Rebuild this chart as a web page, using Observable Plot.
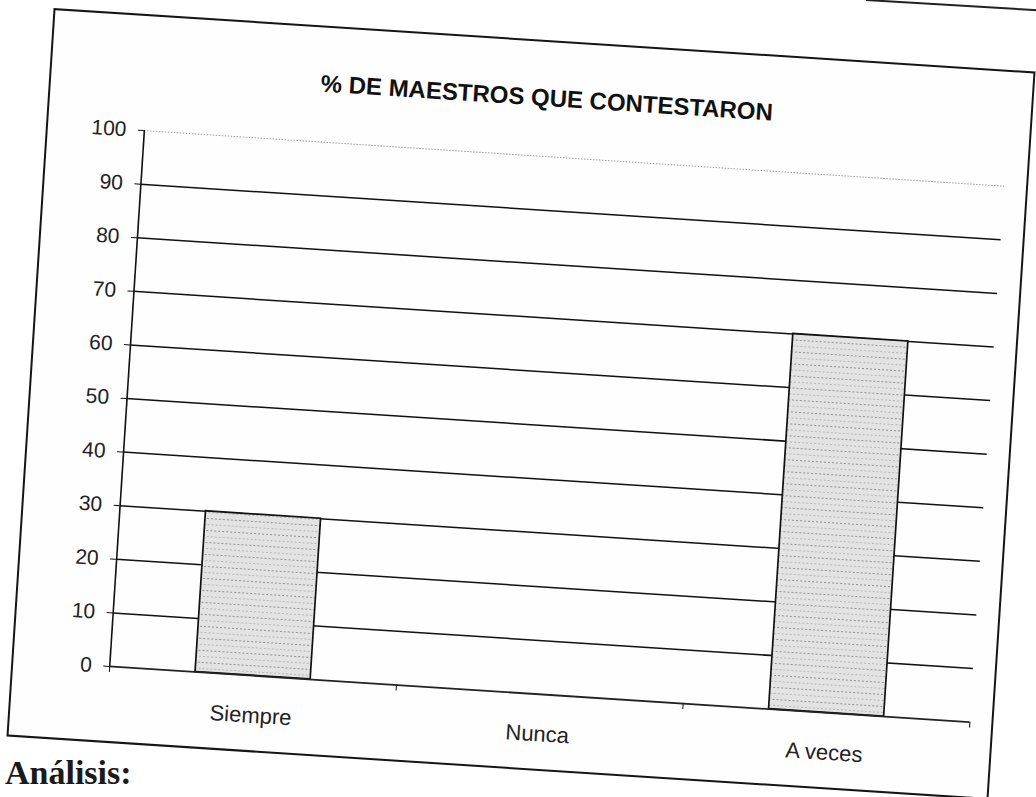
<!DOCTYPE html>
<html>
<head>
<meta charset="utf-8">
<script src="https://cdn.jsdelivr.net/npm/d3@7"></script>
<script src="https://cdn.jsdelivr.net/npm/@observablehq/plot@0.6"></script>
<style>
  html, body { margin: 0; padding: 0; background: #ffffff; width: 1036px; height: 797px; overflow: hidden; }
  #box {
    position: absolute; left: 29px; top: 39px; width: 984px; height: 730px;
    box-sizing: border-box; border: 2px solid #151515; background: #fefefe;
    transform: rotate(3.7deg); transform-origin: 50% 50%;
  }
  #title {
    height: 98px; box-sizing: border-box; padding-top: 42px;
    font-family: "Liberation Sans", Arial, sans-serif; font-weight: bold;
    font-size: 24px; line-height: 28px; text-align: center; color: #111;
    padding-left: 12px;
  }
  #chart svg { display: block; overflow: visible; }
  #analisis {
    position: absolute; left: 5px; top: 756px;
    font-family: "Liberation Serif", "Times New Roman", serif; font-weight: bold;
    font-size: 34px; line-height: 34px; color: #1a1a1a;
  }
  #edge {
    position: absolute; left: 866px; top: -1px; width: 190px; height: 0;
    border-top: 2px solid #222; transform: rotate(3.4deg); transform-origin: 0 0;
  }
</style>
</head>
<body>
<div id="edge"></div>
<div id="box">
  <div id="title">% DE MAESTROS QUE CONTESTARON</div>
  <div id="chart"></div>
</div>
<div id="analisis">Análisis:</div>
<script>
const categories = ["Siempre", "Nunca", "A veces"];
const values = [30, 0, 70];
const yTicks = [0, 10, 20, 30, 40, 50, 60, 70, 80, 90, 100];

const rows = categories.map((c, i) => ({categoria: c, pos: i, valor: values[i]}));

const chart = Plot.plot({
  width: 980,
  height: 624,
  marginTop: 16,
  marginBottom: 71,
  marginLeft: 96,
  marginRight: 22,
  style: {fontFamily: "'Liberation Sans', Arial, sans-serif", fontSize: "21px", color: "#222", background: "transparent"},
  x: {domain: [0, 3], axis: null},
  y: {domain: [0, 100], axis: null},
  marks: [
    Plot.ruleY(yTicks.filter(t => t > 0 && t < 100), {stroke: "#111", strokeWidth: 1.5}),
    Plot.ruleY([100], {stroke: "#9a9a9a", strokeWidth: 1, strokeDasharray: "1.5,1.5"}),
    Plot.rectY(rows, {
      x1: d => d.pos, x2: d => d.pos + 1, y1: 0, y2: "valor",
      insetLeft: 86, insetRight: 86,
      fill: "url(#barpat)", stroke: "#111", strokeWidth: 1.7
    }),
    Plot.ruleX([0], {y1: 0, y2: 100, stroke: "#111", strokeWidth: 1.6}),
    Plot.ruleY([0], {stroke: "#222", strokeWidth: 1.8}),
    Plot.axisY({ticks: yTicks, tickSize: 6, tickPadding: 12, fontSize: 21, label: null, stroke: "#111", fill: "#222"}),
    Plot.axisX({ticks: [0, 1, 2, 3], tickFormat: () => "", tickSize: 6, label: null, stroke: "#111"}),
    Plot.text(rows, {x: d => d.pos + 0.5, y: 0, text: "categoria", dy: 40, fontSize: 22, fill: "#222"})
  ]
});

const ns = "http://www.w3.org/2000/svg";
const defs = document.createElementNS(ns, "defs");
defs.innerHTML = `
  <pattern id="barpat" width="4" height="12" patternUnits="userSpaceOnUse">
    <rect width="4" height="12" fill="#e3e3e3"/>
    <rect x="0" y="3" width="2" height="1" fill="#8f8f8f"/>
    <rect x="1" y="9" width="2" height="1" fill="#b5b5b5"/>
  </pattern>`;
chart.insertBefore(defs, chart.firstChild);
document.getElementById("chart").appendChild(chart);
</script>
</body>
</html>
